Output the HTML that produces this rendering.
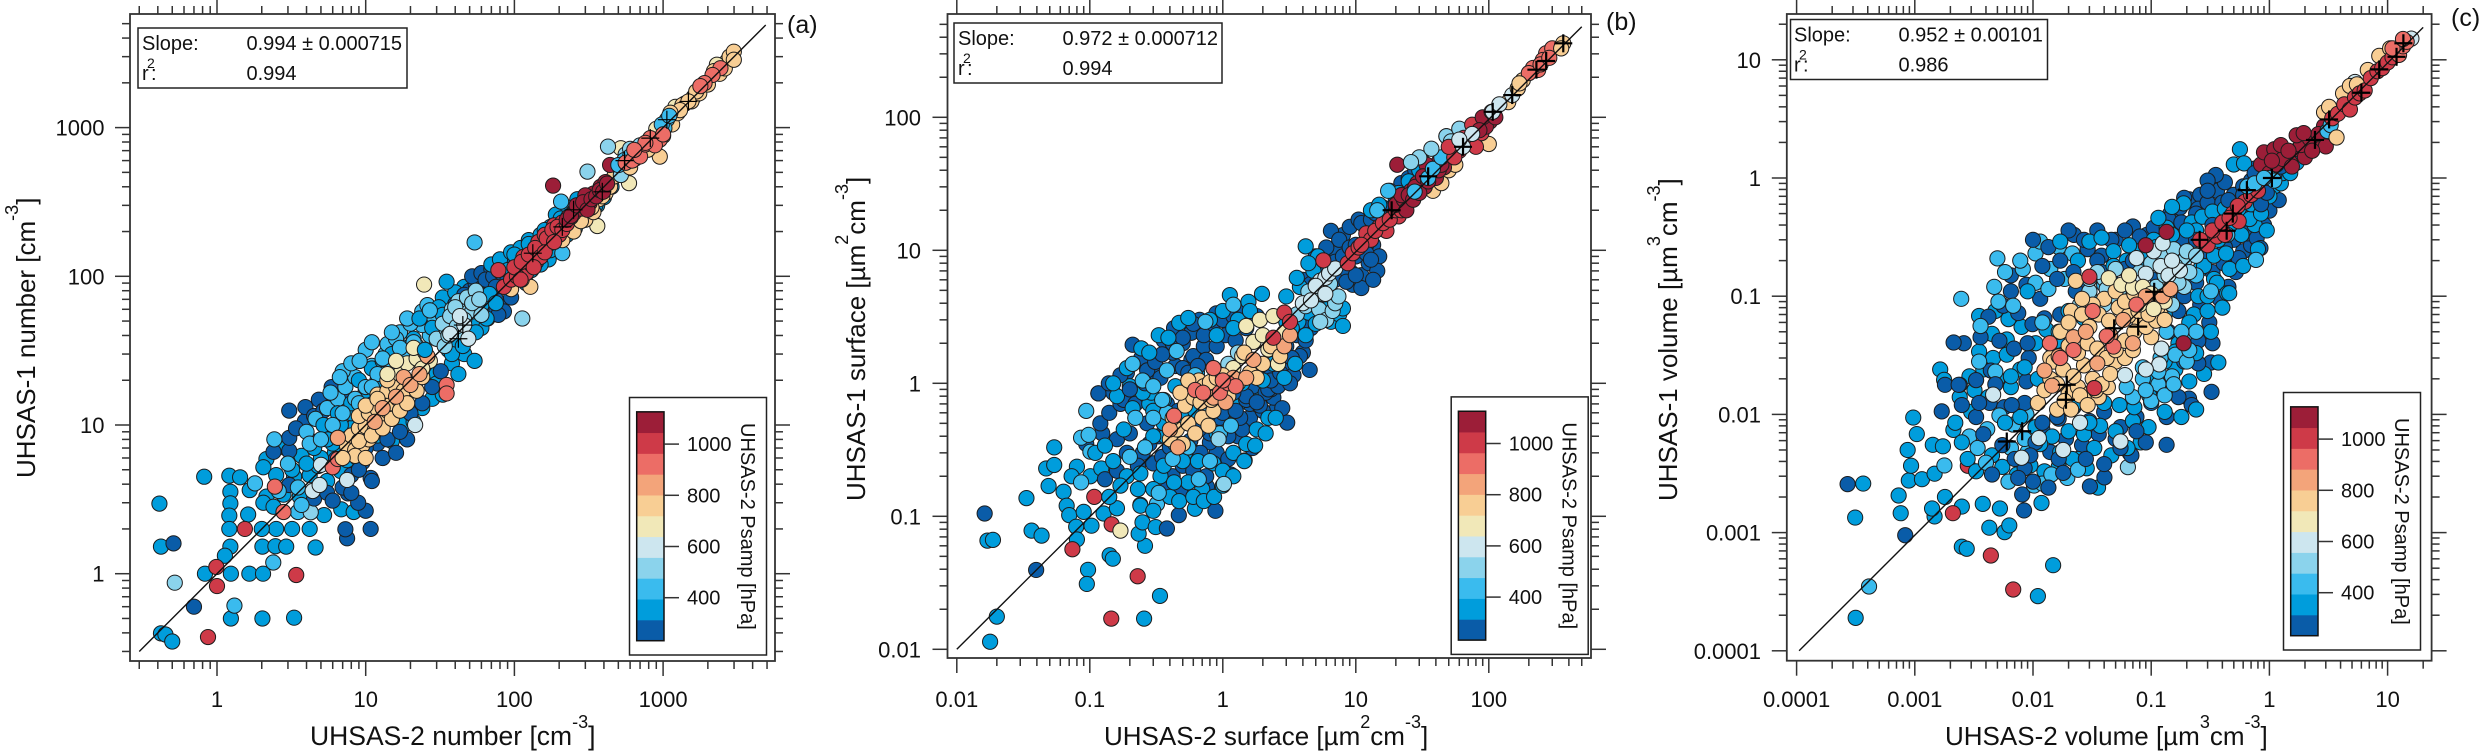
<!DOCTYPE html>
<html lang="en">
<head>
<meta charset="utf-8">
<title>UHSAS-1 vs UHSAS-2 comparison</title>
<style>
html,body{margin:0;padding:0;background:#fff;width:2480px;height:752px;overflow:hidden}
svg{display:block}
text{font-family:"Liberation Sans",Arial,sans-serif;fill:#111}
</style>
</head>
<body>
<svg id="chart" xmlns="http://www.w3.org/2000/svg" width="2480" height="752" viewBox="0 0 2480 752">
<rect width="2480" height="752" fill="#fff"/>
<g id="layer"></g>

<text x="310" y="745" font-size="26.5">UHSAS-2 number [cm<tspan dy="-17" font-size="18">-3</tspan><tspan dy="17">]</tspan></text>
<text transform="translate(35,478) rotate(-90)" font-size="26">UHSAS-1 number [cm<tspan dy="-17" font-size="18">-3</tspan><tspan dy="17">]</tspan></text>
<text x="1104" y="745" font-size="26">UHSAS-2 surface [µm<tspan dy="-17" font-size="18">2</tspan><tspan dy="17">cm</tspan><tspan dy="-17" font-size="18">-3</tspan><tspan dy="17">]</tspan></text>
<text transform="translate(865,501) rotate(-90)" font-size="26">UHSAS-1 surface [µm<tspan dy="-17" font-size="18">2</tspan><tspan dy="17">cm</tspan><tspan dy="-17" font-size="18">-3</tspan><tspan dy="17">]</tspan></text>
<text x="1945" y="745" font-size="26">UHSAS-2 volume [µm<tspan dy="-17" font-size="18">3</tspan><tspan dy="17">cm</tspan><tspan dy="-17" font-size="18">-3</tspan><tspan dy="17">]</tspan></text>
<text transform="translate(1677,501) rotate(-90)" font-size="26">UHSAS-1 volume [µm<tspan dy="-17" font-size="18">3</tspan><tspan dy="17">cm</tspan><tspan dy="-17" font-size="18">-3</tspan><tspan dy="17">]</tspan></text>

<text x="787" y="33" font-size="25">(a)</text>
<text x="1606" y="30" font-size="25">(b)</text>
<text x="2451" y="26" font-size="25">(c)</text>

<g>
<rect x="138" y="28" width="269" height="60" fill="#fff" stroke="#222" stroke-width="1.5"/>
<text x="142" y="50" font-size="20">Slope:</text><text x="246.5" y="50" font-size="20">0.994 ± 0.000715</text>
<text x="142" y="80" font-size="20">r</text><text x="147" y="68" font-size="14">2</text><text x="151" y="80" font-size="20">:</text><text x="246.5" y="80" font-size="20">0.994</text>
</g>
<g>
<rect x="954" y="23" width="268" height="60" fill="#fff" stroke="#222" stroke-width="1.5"/>
<text x="958" y="45" font-size="20">Slope:</text><text x="1062.5" y="45" font-size="20">0.972 ± 0.000712</text>
<text x="958" y="75" font-size="20">r</text><text x="963" y="63" font-size="14">2</text><text x="967" y="75" font-size="20">:</text><text x="1062.5" y="75" font-size="20">0.994</text>
</g>
<g>
<rect x="1790.5" y="19.5" width="257" height="60" fill="#fff" stroke="#222" stroke-width="1.5"/>
<text x="1794" y="41.5" font-size="20">Slope:</text><text x="1898.5" y="41.5" font-size="20">0.952 ± 0.00101</text>
<text x="1794" y="71.5" font-size="20">r</text><text x="1799" y="59.5" font-size="14">2</text><text x="1803" y="71.5" font-size="20">:</text><text x="1898.5" y="71.5" font-size="20">0.986</text>
</g>
</svg>

<script>
// ---------- colour scale ----------
const legendColors = ["#0a5ca8","#009ddc","#3abbee","#8bd3ec","#cde6ef","#f1e8b8","#f8ce94","#f3a47a","#ec6d66","#ce3a48","#9c1e38"];
const legendTicks = [400,600,800,1000];
const pressureMin = 232;
const pressureMax = 1126;

// ---------- panel (a) number ----------
const numXTicks = [1,10,100,1000];
const numYTicks = [1,10,100,1000];
const numLineX = [0.3,4900];
const numLineY = [0.3,4900];
const numCrossX = [1480,1060,820,550,390,250,210,133,45,42];
const numCrossY = [1500,1130,850,600,370,280,215,143,47,38];

const numX1=[.41,.42,.82,1.21,1.43,1.23,1.23,1.21,1.21,1.62,1.66,1.23,1.13,.83,1.24,1.65,2.04];
const numY1=[2.96,1.52,4.49,4.56,4.45,3.56,2.97,2.46,2,2.5,3.65,1.52,1.32,1,1,1,1];
const numP1=350;
const numX2=[1.24,2.02,3.3,.42,.45,.5,2.02,2.47,2.92,4.6,4.2,3.2,2.5,2,5.25,6.85,8.3];
const numY2=[.5,.5,.506,.397,.39,.35,1.52,1.53,1.52,1.5,2,2,2,2,2.48,2.71,2.6];
const numP2=350;
const numX3=[.51,.7,7.5,7.3,10.8,10,8.9];
const numY3=[1.6,.6,1.73,1.99,2,2.65,3];
const numP3=270;
const numX4=[1.31,2.39,1.8,3.5];
const numY4=[.61,1.19,4.05,2.6];
const numP4=430;
const numX5=[1.54,3.41,1,.99,.87];
const numY5=[2,.98,.826,1.11,.375];
const numP5=1000;
const numX6=[.52,4.27];
const numY6=[.87,2.59];
const numP6=520;
const numX7=[2.15,2.05,2.5,2.15,2.05,2.4,3.6,5.25,2.8,3.3,4.2,5.5,6.8,4.8,3.7,2.9,6.2,7.5,8.8];
const numY7=[5.9,5.2,4.6,3.3,3,2.82,3.3,3.65,3.4,4.5,4.6,4.2,4.9,5.3,6.2,7,6.5,5.8,6];
const numP7=350;
const numX8=[2.4,3.06,3.06,3.06,3.9,3.93,3.06,3.4,4.84,5.9,4.3,5.5,6.3,7.6,10.8,8,9.5,4.5,5.2,6.9,7.3,12];
const numY8=[6.6,6.7,3.95,8.2,10.6,13.2,12.5,9.5,14.8,18,7.8,8.4,5.9,3.47,4.4,4.6,5.6,11.5,12.5,15.5,8.8,7.5];
const numP8=270;
const numX9=[2.43,4,4.6,5.5,6.5,7.3,9.1,8.5,7,11,13.6,10,14,5.8,6.7,8];
const numY9=[8,9,11,13,15,18,27,21,23,25,30,32,35,16.5,21,26];
const numP9=430;
const numX10=[12,15,18,21,24,28,33,22,26,30,38,46,54,42,30,36];
const numY10=[8.5,7.8,10,10.5,13,15,16,20,24,22,26,30,27,22,19,32];
const numP10=350;
const numX11=[21.5,7.5,5,4.4,4.9];
const numY11=[10,4.27,5.4,3.6,3.95];
const numP11=600;
const numX12=[6.5,2.45,2.8,6,6.5,35,35];
const numY12=[8.2,3.85,2.6,5.2,5.9,18.6,16.3];
const numP12=900;
const numX13=[7.5,8.5,9.5,10.5,8,9,10,11.5,12.5,13.5,9,10.5,12,14,15,16.5,12,14,16,18,20,8.5,10];
const numY13=[7.2,6.8,7.3,8,8.5,9.5,9.8,9.2,10,11,11.5,12,12.8,12.5,14,15,16,17,18,17,19,6.2,6];
const numP13=770;
const numX14=[17,19,22,25,27,21,24,16,14];
const numY14=[22,26,28,31,27,33,24,27,22];
const numP14=680;
const numX15=[11.5,16,18,20,23,26,6.5,13];
const numY15=[10.5,15.5,21,18.6,22,29,8.2,13];
const numP15=860;
const numX16=[18,21,17,16,24,28,24,20,26,11,15,19,13,17];
const numY16=[30,36,42,38,47,55,58,48,64,36,42,52,28,33];
const numP16=430;
const numX17=[27,33,46,23,31,40,35,58,66,72,60,75];
const numY17=[59,72,85,52,62,78,92,60,52,68,45,95];
const numP17=350;
const numX18=[50,55,62,70,75,80,85,52,60,70,85,95,58,68,78,46];
const numY18=[80,88,92,78,70,62,58,100,105,112,85,72,72,62,55,75];
const numP18=270;
const numX19=[30,35,40,45,50,38,42,48,55,44,52,60,113,34,39];
const numY19=[38,44,50,56,62,60,68,72,80,42,58,55,52,34,52];
const numP19=520;
const numX20=[46,49,37,43];
const numY20=[47,38,41,54];
const numP20=600;
const numX21=[70,80,95,110,125,110,130,150,170,90,100,120,170,190,230,265,340,290,240,360,150,175,205,125];
const numY21=[120,130,145,155,175,110,120,140,160,110,100,90,130,260,290,330,330,260,230,300,190,215,245,165];
const numP21=350;
const numX22=[54,27,9.1,206,210];
const numY22=[169,59,27,318,143];
const numP22=430;
const numX23=[24.7,361,590,520];
const numY23=[88,218,423,727];
const numP23=680;
const numX24=[300,340,370,410,128,112,95];
const numY24=[240,270,330,362,85,95,82];
const numP24=800;
const numX25=[85,95,105,120,130,115,140,155,170,145,160,180,200,185,210,230,250,78,104,139];
const numY25=[85,95,110,105,120,135,125,150,165,170,190,180,190,220,230,250,270,110,100,143];
const numP25=1000;
const numX26=[225,250,280,320,340,300,380,410,440,182];
const numY26=[240,265,285,310,360,350,400,430,561,407];
const numP26=1100;
const numX27=[2990,2990,1670,1480,1300,950,790,1120];
const numY27=[3240,2860,1750,1500,1310,638,710,1260];
const numP27=770;
const numX28=[1210,1100,900,2700,1600,2300,1400];
const numY28=[1380,1150,980,2800,1600,2650,1450];
const numP28=680;
const numX29=[426,310,560,700];
const numY29=[745,506,660,760];
const numP29=520;
const numX30=[1060,1020,980,1100,550,600,500];
const numY30=[1130,990,1050,1200,606,640,560];
const numP30=430;
const numX31=[2430,2150,1900,1780,820,880,1000,760,640];
const numY31=[2510,2260,1990,1900,850,760,900,790,708];
const numP31=900;
const numX32=[3.2,4,5,6,7,8.5,4.5,5.5,6.8,8,9.5,11,5.2,6.5,8,10,12,9,11,13,15,17,13,15,18,21,16,19,22,25,13,11];
const numY32=[5,5.5,6,7.5,9,10,7,8,10,12,14,16,10,12,14,17,20,20,24,27,30,34,22,26,30,38,16,18,20,26,12,10];
const numP32=350;
const numX33=[4.5,5.5,7,9,11,13,16,19,14,17,20,24,28,32,6,8,10];
const numY33=[3.2,3.5,3.8,5,4.2,6,6.5,8,8,9,12,14,18,23,3.1,3.5,7];
const numP33=270;
const numX34=[3.5,2.6,4.2,5,6,3,3.7,7,8.5,10,12,15,18,22,27,32,38,9,11];
const numY34=[3.8,3.6,7.5,8,10,5.5,2.9,12,15,18,22,24,30,34,40,46,54,14,18];
const numP34=430;
const numX35=[9,11,13,15,17,19,22,24,10,12,7,14];
const numY35=[7.8,8.5,9.5,11,12.5,14,17,21,13.5,15,6,20];
const numP35=770;
const numX36=[25,30,35,40,45,52,60,68,38,45,55,65,75,28,33];
const numY36=[32,38,46,36,44,50,64,76,30,34,42,52,66,45,55];
const numP36=350;
const numX37=[40,48,56,64,72,82,92,100,60,75,90];
const numY37=[65,70,80,95,100,105,110,125,60,85,95];
const numP37=270;
const numX38=[33,37,41,46,36,40,52,58];
const numY38=[48,54,46,51,40,62,66,70];
const numP38=520;
const numX39=[130,150,175,200,225,255,300,350,400,450,100,160];
const numY39=[110,120,150,170,190,210,270,300,340,400,140,205];
const numP39=380;
const numX40=[210,250,280,330,390,440,470,520];
const numY40=[175,200,235,290,345,400,470,510];
const numP40=800;
const numX41=[100,112,125,138,150,165,180,195,210,225,240,265,110,135,160,185];
const numY41=[115,125,140,155,135,180,205,215,205,225,250,300,95,115,145,170];
const numP41=1000;
const numX42=[240,262,290,310,330,355,375,395,420];
const numY42=[255,300,315,280,330,345,380,370,420];
const numP42=1100;
const numX43=[600,700,800,1000,1150,1250,1350,1550,1750,2000,2200,2400,2600,2800];
const numY43=[540,680,760,880,1050,1250,1420,1500,1700,1950,2400,2300,2500,3000];
const numP43=770;
const numX44=[600,520,650];
const numY44=[720,480,620];
const numP44=520;
const numX45=[560,620,700,760,850,950];
const numY45=[580,600,640,770,820,830];
const numP45=900;
const numGroups=[[numX1,numY1,numP1],[numX2,numY2,numP2],[numX3,numY3,numP3],[numX4,numY4,numP4],[numX5,numY5,numP5],[numX6,numY6,numP6],[numX7,numY7,numP7],[numX8,numY8,numP8],[numX9,numY9,numP9],[numX10,numY10,numP10],[numX33,numY33,numP33],[numX32,numY32,numP32],[numX34,numY34,numP34],[numX11,numY11,numP11],[numX12,numY12,numP12],[numX16,numY16,numP16],[numX17,numY17,numP17],[numX13,numY13,numP13],[numX35,numY35,numP35],[numX14,numY14,numP14],[numX15,numY15,numP15],[numX18,numY18,numP18],[numX37,numY37,numP37],[numX36,numY36,numP36],[numX19,numY19,numP19],[numX38,numY38,numP38],[numX20,numY20,numP20],[numX21,numY21,numP21],[numX39,numY39,numP39],[numX22,numY22,numP22],[numX23,numY23,numP23],[numX24,numY24,numP24],[numX40,numY40,numP40],[numX25,numY25,numP25],[numX41,numY41,numP41],[numX26,numY26,numP26],[numX42,numY42,numP42],[numX28,numY28,numP28],[numX29,numY29,numP29],[numX44,numY44,numP44],[numX43,numY43,numP43],[numX27,numY27,numP27],[numX30,numY30,numP30],[numX45,numY45,numP45],[numX31,numY31,numP31]];

// ---------- panel (b) surface ----------
const surfXTicks = [0.01,0.1,1,10,100];
const surfYTicks = [0.01,0.1,1,10,100];
const surfLineX = [0.01,500];
const surfLineY = [0.01,480];
const surfCrossX = [363,270,228,150,107,64,18.6,35];
const surfCrossY = [360,265,228,147,110,60,20,36];

const surfX1=[.017,.0187,.02,.0178,.0365,.0434,.0334,.054,.047,.054,.049,.0635,.067,.07,.079,.08];
const surfY1=[.0656,.0665,.0176,.0114,.078,.0716,.137,.33,.229,.243,.169,.153,.12,.102,.0835,.067];
const surfP1=350;
const surfX2=[.08,.073,.101,.122,.09,.103,.127,.16,.141,.149,.097,.095,.337,.256,.26,.233,.249,.313,.617];
const surfY2=[.236,.2,.2,.229,.108,.085,.105,.115,.051,.048,.0396,.031,.0252,.017,.06,.074,.09,.083,.114];
const surfP2=350;
const surfX3=[.0162,.0395,.094,.116,.124,.38,.467,.88,.84,.76,1.15,1.46,1.67,3.05,2.48];
const surfY3=[.105,.0395,.35,.84,.42,.081,.102,.11,.148,.167,.206,.263,.326,.506,.62];
const surfP3=270;
const surfX4=[.094,.086,.24,.32,.086,.098,.101];
const surfY4=[.62,.18,.122,.124,.39,.41,.306];
const surfP4=430;
const surfX5=[.074,.108,.146,.229,.145];
const surfY5=[.0565,.14,.087,.0354,.017];
const surfP5=1000;
const surfX6=[.17];
const surfY6=[.078];
const surfP6=680;
const surfX7=[.12,.14,.17,.16,.2,.25,.3,.22,.27,.35,.42,.5,.6,.75,.9,1.1,1.3];
const surfY7=[.5,.6,.7,.38,.42,.3,.25,.55,.5,.28,.2,.24,.22,.2,.3,.27,.4];
const surfP7=270;
const surfX8=[1.6,2,2.4,2.8,.38,.48,.62,.8,1.05,1.4,1.9,.24,.32,.44,.58,.19,.26];
const surfY8=[.55,.62,.78,.65,.16,.15,.3,.36,.5,.45,.8,.95,1.15,1.35,1.5,1.2,1.4];
const surfP8=270;
const surfX9=[.11,.13,.15,.19,.23,.18,.21,.28,.34,.4,.47,.55,.7,.85,1,1.2,1.5];
const surfY9=[.3,.34,.26,.2,.16,.45,.65,.7,.2,.14,.13,.18,.16,.25,.22,.3,.35];
const surfP9=350;
const surfX10=[1.8,2.2,.16,.2,.29,.37,.44,.52,.65,.17,.14,.24,.3,.9,1.3,1.7];
const surfY10=[.45,.55,.8,.95,.85,.4,.35,.3,.26,.17,.14,.12,.11,.42,.7,.85];
const surfP10=350;
const surfX11=[.116,.139,.17,.2,.244,.21,.27,.31,.36,.43,.5,.58,.67,.26,.34,.42,.5,.6,.72,.895];
const surfY11=[.84,1,1.15,.9,1.55,1.95,1.25,1.45,2.1,2.6,2,2.4,3,1,1.1,1.7,1.3,1.6,1.9,3.36];
const surfP11=270;
const surfX12=[.15,.19,.244,.28,.33,.39,.47,.55,.8,1,1.13,1.56,1.97,1.3,1.6,.9,1.2];
const surfY12=[1,1.3,1.83,1.7,2.3,2.2,2.85,3.1,3,3.5,4.6,4.1,4.7,3,3.5,2.3,2.6];
const surfP12=350;
const surfX13=[.21,.25,.3,.38,.45,.74,1.2,.35,.62,.75];
const surfY13=[1.4,1.05,.95,1.25,1.75,2.9,3.9,.75,1.15,.62];
const surfP13=430;
const surfX14=[1.9,2.3,2.8,3.4,4.5,4,3,2.4,3.6,4.6,5.3,1.5,1.7,2.1,2.6];
const surfY14=[1,1.2,1.35,1.15,1.26,1.7,1.9,1.6,2.3,2.6,3.3,.75,.95,.85,1.05];
const surfP14=270;
const surfX15=[6,7,8,6.5,7.5,9,10.5,12,13.5,15,9,11,12.5,14.5,10,12,8,9.5,11,13.5];
const surfY15=[8.5,10,13,14,12,15,17,14.5,11,9,7,6.5,8,7,9,11,6.5,5.5,5.2,6];
const surfP15=270;
const surfX16=[13,15,18,21,25,30,5.2,4.2,4.8,3.3,7.5,8,3,3.8,8,3.6,4.4];
const surfY16=[20,22,28,27,33,40,9,10.7,7,2.6,3.3,3.66,4.5,5.3,2.7,6.2,8];
const surfP16=350;
const surfX17=[3.6,4.2,4.8,5.3,6,6.7,4.4,5,5.6,6.2,7,5.4,6.4,7.4];
const surfY17=[3.3,3.8,4.2,3.6,3,3.5,4.9,5.5,4.7,5,4,2.9,5.6,4.5];
const surfP17=520;
const surfX18=[4,4.6,5.4,5.9,6.3,7,5,5.9];
const surfY18=[4,4.2,5.9,6.2,6.7,7.3,5.4,4.7];
const surfP18=600;
const surfX19=[.93,.85,1.1,1.3,.9,1.02];
const surfY19=[.38,1.3,1.4,1.7,1.2,.175];
const surfP19=550;
const surfX20=[1.2,1.4,1.7,2,1.5,1.9,2.4,2.9,2.2,2.6];
const surfY20=[1.3,1.6,2.05,2.3,2.7,3,3.2,2.4,1.8,1.4];
const surfP20=680;
const surfX21=[.4,.45,.5,.55,.62,.7,.78,.85,.52,.6,.68,.75,.82,.95,.58,.66,.72,.8,.9,1,.42,.48,.55];
const surfY21=[.38,.45,.35,.5,.42,.55,.48,.62,.68,.78,.72,.85,.75,.9,.95,1.05,.95,1.02,1.1,1.15,.55,.85,1.05];
const surfP21=770;
const surfX22=[1.3,1.6,2,2.3,2.7,1.1,1.45,1.8];
const surfY22=[1,1.2,1.4,1.9,1.6,.8,1.7,1.1];
const surfP22=770;
const surfX23=[.46,.4,.85,1.05,1.2,2.9,3.2,1.5,1.7];
const surfY23=[.33,.45,.78,.72,1.1,1.9,2.3,1.1,1.5];
const surfP23=860;
const surfX24=[.95,1.1,1.25,.85,1,.62,.43,.71];
const surfY24=[.85,1,.95,1.3,1.05,.89,.57,.85];
const surfP24=920;
const surfX25=[5.7,8.7,9.5,10.5,12,13,15,17,19,21,2.4,2.9,3.2];
const surfY25=[8.4,8,9.5,10.5,13.4,12,15,14,18,18,2.2,3.4,2.9];
const surfP25=1000;
const surfX26=[20,23,26,29,33,37,42,46,40,34,28,24,20.5];
const surfY26=[22,24,28,32,30,38,46,42,35,44,30,20,44];
const surfP26=1100;
const surfX27=[14.5,27.7,35,17.5,38,44];
const surfY27=[20,27.6,35,28,41,50];
const surfP27=400;
const surfX28=[30,37,26,48,52,60];
const surfY28=[50,58,46,72,66,82];
const surfP28=500;
const surfX29=[38,44,50,56,48,100,140,165,180];
const surfY29=[28,32,40,44,72,63,130,165,190];
const surfP29=770;
const surfX30=[88,72,80,60,55,50,65,75];
const surfY30=[76,65,60,56,50,60,70,88];
const surfP30=1000;
const surfX31=[102,95,90,110,85,105,112];
const surfY31=[93,85,100,105,80,110,100];
const surfP31=1100;
const surfX32=[107,64,75,60,150,120];
const surfY32=[110,60,75,68,147,125];
const surfP32=600;
const surfX33=[270,235,300,255,215,200,245,285];
const surfY33=[303,227,330,270,235,215,250,280];
const surfP33=900;
const surfX34=[363,350,165,170];
const surfY34=[360,330,165,180];
const surfP34=770;
const surfX35=[.13,.16,.19,.23,.28,.33,.4,.48,.57,.68,.8,.95,1.1,1.35,1.6,1.9,2.3,.15,.18,.22,.27,.32,.38,.46,.55,.66,.78,.93,1.1,1.3,1.55,1.85];
const surfY35=[.19,.22,.3,.24,.35,.4,.33,.3,.37,.3,.42,.55,.4,.55,.7,.68,.9,.85,.75,.7,.8,.62,.7,.62,.5,.45,.58,.65,.75,.9,1,1.1];
const surfP35=270;
const surfX36=[.24,.3,.36,.43,.5,.6,.72,.86,1,1.2,1.45,1.75,2.1,2.5,.3,.36,.43,.52,.62,.75,.9,.25,.3,.36,.44,.53,.64];
const surfY36=[.21,.16,.24,.18,.26,.14,.13,.14,.17,.2,.26,.34,.42,.55,.4,.5,.45,.55,.62,.75,.7,.85,.62,.75,.95,.8,1.2];
const surfP36=350;
const surfX37=[.2,.26,.33,.42,.55,.66,.8,.95,1.15,.38,.3,.22];
const surfY37=[.28,.33,.15,.27,.33,.19,.26,.42,.48,.6,.55,.55];
const surfP37=430;
const surfX38=[.35,.42,.5,.6,.72,.85,1,1.2,1.45,.75,.9,1.05,1.25,1.5,1.8,.55,.65];
const surfY38=[1.65,2,2.2,2.8,2.3,2.8,3,3.2,3.7,1.5,1.9,2.3,2.1,2.6,3.2,1.2,1.35];
const surfP38=270;
const surfX39=[1,1.25,1.5,1.8,2.2,2.6,3.2,3.8,4.2,3.4,2.9,2.3,1.9,2.7,3.3,4,.95,1.2];
const surfY39=[.6,.62,.8,.72,.9,.95,1,1.6,2.1,2.8,2.2,1.05,1.35,1.2,1.55,2.9,.85,.85];
const surfP39=270;
const surfX40=[1.4,1.7,2,2.4,2.9,3.5,4.2,3,3.7,4.4,5,5.8,6.5,7.2,6];
const surfY40=[1,1.2,1.05,1.4,1.1,1.4,2.3,2.9,2.9,3.4,2.8,3.1,2.9,3.9,3.6];
const surfP40=350;
const surfX41=[4,5,6,7,8,9,10,11,12,13,5,6,7,8.5,10,4.6,5.5,6.5];
const surfY41=[6,7,7.5,8.2,9,10.5,11,10,9.5,8.5,9,10.5,6,5.8,6.5,5.6,8,4.8];
const surfP41=270;
const surfX42=[11,13,14,16,18,20,22,25,28,32];
const surfY42=[16,17,19,21,20,24,32,35,40,46];
const surfP42=270;
const surfX43=[11,14,16,18,20,22];
const surfY43=[11,14,16,17,20,20];
const surfP43=1000;
const surfX44=[22,25,27,30,32,35,38,42,44];
const surfY44=[26,26,24,27,36,33,40,40,44];
const surfP44=1100;
const surfGroups=[[surfX1,surfY1,surfP1],[surfX2,surfY2,surfP2],[surfX3,surfY3,surfP3],[surfX4,surfY4,surfP4],[surfX5,surfY5,surfP5],[surfX6,surfY6,surfP6],[surfX7,surfY7,surfP7],[surfX8,surfY8,surfP8],[surfX35,surfY35,surfP35],[surfX9,surfY9,surfP9],[surfX10,surfY10,surfP10],[surfX36,surfY36,surfP36],[surfX37,surfY37,surfP37],[surfX11,surfY11,surfP11],[surfX38,surfY38,surfP38],[surfX12,surfY12,surfP12],[surfX13,surfY13,surfP13],[surfX14,surfY14,surfP14],[surfX39,surfY39,surfP39],[surfX40,surfY40,surfP40],[surfX15,surfY15,surfP15],[surfX41,surfY41,surfP41],[surfX42,surfY42,surfP42],[surfX16,surfY16,surfP16],[surfX17,surfY17,surfP17],[surfX18,surfY18,surfP18],[surfX19,surfY19,surfP19],[surfX20,surfY20,surfP20],[surfX22,surfY22,surfP22],[surfX21,surfY21,surfP21],[surfX23,surfY23,surfP23],[surfX24,surfY24,surfP24],[surfX29,surfY29,surfP29],[surfX25,surfY25,surfP25],[surfX43,surfY43,surfP43],[surfX26,surfY26,surfP26],[surfX44,surfY44,surfP44],[surfX27,surfY27,surfP27],[surfX28,surfY28,surfP28],[surfX30,surfY30,surfP30],[surfX31,surfY31,surfP31],[surfX32,surfY32,surfP32],[surfX33,surfY33,surfP33],[surfX34,surfY34,surfP34]];

// ---------- panel (c) volume ----------
const volXTicks = [0.0001,0.001,0.01,0.1,1,10];
const volYTicks = [0.0001,0.001,0.01,0.1,1,10];
const volLineX = [0.000105,20];
const volLineY = [0.0001,18.8];
const volCrossX = [.006,.0081,.019,.0193,.0486,.0776,.106,.257,.435,.49,.645,1.05,2.43,3.2,6,8.5,11.9,13.6];
const volCrossY = [.0059,.0072,.0133,.0178,.0535,.0553,.109,.3,.358,.5,.79,1,2.1,3.13,5.26,8.3,10.6,13.8];

const volX1=[.000366,.000313,.000316,.00076,.00073,.00089,.00115,.00093,.00147,.00087,.00104,.00097,.00142,.00173,.00212];
const volY1=[.0026,.00134,.00019,.00146,.00206,.00276,.00283,.00368,.00315,.005,.00682,.0094,.00553,.00537,.0074];
const volP1=350;
const volX2=[.00147,.0014,.0018,.0025,.0025,.00275,.00427,.00575,.0063,.00376,.00525,.0148,.011,.0118,.0355,.0815];
const volY2=[.00137,.0016,.002,.00166,.00076,.00073,.0011,.00101,.00115,.00175,.0016,.00053,.00029,.00178,.0024,.0058];
const volP2=350;
const volX3=[.00027,.00083,.00169,.0081,.0084,.0132,.0303,.0402,.135,.066,.324,.209];
const volY3=[.00257,.00095,.0106,.0021,.00154,.00245,.00246,.00293,.00553,.00469,.0155,.0136];
const volP3=270;
const volX4=[.00041,.00178,.0102];
const volY4=[.00035,.0037,.0025];
const volP4=430;
const volX5=[.0021,.00281,.0044,.0068];
const volY5=[.00146,.00368,.00064,.00033];
const volP5=1000;
const volX6=[.0635];
const volY6=[.00358];
const volP6=520;
const volX7=[.0022,.003,.0024,.0032,.0042,.0029,.0038,.005,.0065,.0035,.0046,.006,.0078,.0045,.006,.008,.0105,.0035,.0048,.0062,.00164,.00177];
const volY7=[.0085,.0105,.014,.016,.014,.021,.024,.02,.017,.034,.03,.032,.024,.048,.043,.055,.04,.068,.075,.064,.024,.0196];
const volP7=350;
const volX8=[.0018,.0025,.0033,.0043,.0057,.0024,.0033,.0044,.0026,.0036,.0052,.0069,.0092,.0042,.0056,.0075,.0099,.0065,.0088,.0115,.0065,.00213,.00235];
const volY8=[.0178,.012,.0095,.0125,.0115,.0178,.0195,.0235,.04,.045,.042,.036,.03,.067,.083,.072,.058,.11,.125,.095,.15,.0406,.0178];
const volP8=270;
const volX9=[.00247,.005,.0029,.0041,.0052,.0068,.0088,.0035,.0048,.0036,.0051,.0068,.0047,.0058,.0082,.0105,.0135,.0078,.0105,.014,.0185,.0115,.0165,.0215];
const volY9=[.095,.209,.0065,.0075,.0098,.0082,.01,.028,.023,.056,.09,.083,.12,.16,.17,.13,.115,.2,.23,.17,.14,.29,.26,.23];
const volP9=430;
const volX10=[.01,.0135,.017,.0222,.029,.038,.05,.07,.092,.12,.145,.175,.21,.26,.32,.25,.3,.36,.42,.352,.3,.19];
const volY10=[.3,.26,.2,.33,.25,.22,.3,.389,.33,.42,.5,.56,.66,.72,.84,.55,.62,.78,.92,1.06,.95,.68];
const volP10=270;
const volX11=[.017,.024,.03,.038,.048,.062,.08,.105,.135,.188,.15,.115,.22,.27,.24,.33,.42,.5,.563,.61];
const volY11=[.29,.2,.29,.313,.24,.2,.24,.3,.38,.61,.57,.46,.42,.47,.36,.52,.55,1.3,1.75,1.33];
const volP11=350;
const volX12=[.14,.17,.2,.25,.31,.38,.45,.16,.2,.26,.33,.41,.52,.6,.7,.55,.65,.78,.9,1,1.2,.85,.75,.5,.42,.29,.24,.19,.84];
const volY12=[.05,.075,.04,.042,.06,.095,.12,.11,.13,.085,.16,.19,.16,.24,.27,.21,.34,.31,.4,.53,.65,.75,.5,.3,.26,.23,.13,.1,.255];
const volP12=270;
const volX13=[.13,.16,.21,.25,.3,.36,.44,.28,.34,.43,.37,.47,.58,.68,.8,.95,.62,.72,.88,1.1,1.25,1.4,.37,.457];
const volY13=[.028,.034,.06,.1,.1,.13,.106,.18,.22,.23,.3,.38,.33,.45,.25,.36,.61,.8,.66,.85,.9,1.25,.0275,.106];
const volP13=350;
const volX14=[.0085,.012,.0165,.022,.03,.04,.055,.075,.1,.135,.01,.014,.019,.026,.036,.05,.068,.09,.125,.17,.22,.32];
const volY14=[.0125,.0075,.0092,.0115,.0088,.0105,.0078,.0095,.0125,.0095,.0055,.0048,.0062,.0055,.0068,.0062,.0045,.0058,.0165,.014,.012,.0275];
const volP14=270;
const volX15=[.0058,.0078,.0105,.0145,.02,.027,.037,.05,.07,.095,.13,.18,.24,.017,.024,.033,.046,.063,.11,.16,.21,.28];
const volY15=[.0085,.0095,.0078,.0065,.0072,.0068,.008,.0072,.0088,.0078,.0105,.0095,.011,.0048,.0042,.0052,.0045,.0052,.02,.024,.019,.022];
const volP15=350;
const volX16=[.085,.115,.15,.12,.16,.2,.1,.13,.19,.24,.07,.09,.77];
const volY16=[.02,.018,.021,.03,.032,.028,.013,.0145,.046,.05,.014,.016,.203];
const volP16=430;
const volX17=[.0025,.0028,.0033,.0045,.0055,.0073,.0095,.0125,.0165,.0215,.0285,.0115];
const volY17=[.0058,.0042,.0033,.0045,.0036,.0031,.0037,.0033,.0036,.0042,.0035,.0056];
const volP17=350;
const volX18=[.0034,.004,.0062,.009,.012,.0143,.0195,.024,.0065,.0085];
const volY18=[.0052,.0039,.0027,.0048,.0026,.0031,.0029,.0034,.0052,.0062];
const volP18=430;
const volX19=[.0038,.0055,.0085,.0075,.01,.0165,.0105];
const volY19=[.0068,.0055,.0035,.0029,.0027,.0042,.0058];
const volP19=270;
const volX20=[.055,.065,.08,.1,.125,.155,.19,.21,.17,.14,.11,.09,.07,.05,.035,.03,.042,.16,.2,.24,.13];
const volY20=[.115,.13,.16,.19,.22,.25,.2,.16,.13,.11,.12,.09,.1,.17,.16,.14,.115,.18,.24,.22,.15];
const volP20=520;
const volX21=[.085,.1,.12,.14,.105,.125,.075,.09,.175,.15,.0112,.008,.018,.025,.0046,.055];
const volY21=[.135,.1,.18,.15,.24,.28,.21,.155,.165,.2,.0063,.0043,.005,.0085,.0147,.0059];
const volP21=600;
const volX22=[.011,.0125,.014,.016,.0185,.021,.025,.029,.034,.015,.018,.022,.027,.032,.038,.045,.02,.024,.029,.035,.042,.05,.06,.072,.09,.11];
const volY22=[.0125,.016,.02,.018,.013,.011,.0145,.012,.016,.028,.024,.021,.026,.02,.018,.022,.038,.033,.04,.036,.03,.035,.042,.05,.055,.062];
const volP22=770;
const volX23=[.03,.036,.044,.053,.064,.078,.095,.113,.13,.04,.05,.06,.072,.088,.032,.026,.02,.023];
const volY23=[.055,.07,.062,.08,.068,.075,.07,.08,.063,.095,.11,.09,.105,.092,.085,.095,.06,.135];
const volP23=770;
const volX24=[.0437,.056,.07,.085,.1,.065,.08,.13,.105];
const volY24=[.142,.125,.118,.12,.105,.15,.085,.09,.078];
const volP24=680;
const volX25=[.0125,.0145,.0165,.022,.028,.035,.045,.058,.07,.09,.125,.145];
const volY25=[.0235,.0175,.031,.045,.05,.027,.047,.063,.04,.1,.1,.115];
const volP25=860;
const volX26=[.0139,.017,.022,.033,.048,.032,.042,.075];
const volY26=[.04,.03,.035,.0167,.0375,.075,.046,.085];
const volP26=920;
const volX27=[.06,.117,.122,.09];
const volY27=[.0215,.0265,.036,.024];
const volP27=600;
const volX28=[.7,.85,.95,1.1,1.25,.6,.75];
const volY28=[.95,.6,.75,1.05,1.25,.72,1.1];
const volP28=270;
const volX29=[.3,.36,.42,.49,.55,.62,.7,.8,.26,.33,.4,.46,.54,.03,.033];
const volY29=[.27,.32,.33,.5,.43,.63,.72,.78,.3,.36,.42,.46,.58,.146,.0167];
const volP29=1000;
const volX30=[.188,.09,.135,.85,1,1.15,1.3,1.5,1.75,2,2.3,2.6,2.9,.9,1.1,1.3];
const volY30=[.04,.27,.35,1.3,1.1,1.3,1.55,1.35,1.75,1.5,1.9,2.1,2.75,1.65,1.75,1.45];
const volP30=1100;
const volX31=[1.55,1.85,2.2,2.6,3,1.05,1.25,1.45,1.7,1.95,2.3];
const volY31=[1.25,1.9,2.15,2.35,1.85,1.4,1.9,1.7,2.3,2.4,1.7];
const volP31=1100;
const volX32=[1,1.1,.65,.75,.9,3.1,3.3];
const volY32=[1,.95,.85,.9,1,2.5,2.8];
const volP32=430;
const volX33=[3.7,2.9,3.2,4.2,4.8,5.5,6.8,8.5,10.5];
const volY33=[2.2,3.6,4,5.2,6,6.2,8.2,10.8,12.5];
const volP33=770;
const volX34=[3.4,3.8,4.3,4.8,5.3,5.8,6.4,7.2,8.2,9,10,11,12];
const volY34=[3.2,3.5,4.2,3.8,4.8,5.2,5.5,7,8,8.5,9.5,10.5,12];
const volP34=1000;
const volX35=[12.5,13.5,14.5,11,13.5];
const volY35=[11,13,14.2,12.5,15];
const volP35=900;
const volX36=[15.9,5.3];
const volY36=[15.1,6.5];
const volP36=580;
const volX37=[.0035,.0048,.0066,.0088,.012,.016,.035,.045,.06,.08,.105,.14,.18,.24,.33,.45,.6];
const volY37=[.0125,.018,.012,.019,.0085,.0095,.2,.14,.17,.16,.21,.29,.3,.3,.4,.65,.85];
const volP37=270;
const volX38=[.012,.016,.022,.029,.038,.05,.07,.1,.14,.19,.25,.33,.009,.0125,.017,.023,.03,.04];
const volY38=[.18,.14,.16,.13,.16,.12,.2,.14,.17,.028,.027,.04,.04,.065,.07,.11,.11,.13];
const volP38=270;
const volX39=[.0065,.0085,.011,.015,.02,.027,.036,.048,.065,.085,.11,.15,.2,.26,.34,.46,.6,.75];
const volY39=[.021,.025,.02,.035,.075,.065,.085,.18,.27,.21,.26,.33,.36,.17,.14,.17,.18,.4];
const volP39=350;
const volX40=[.016,.022,.03,.04,.054,.072,.096,.13,.17,.23,.3,.4,.18,.24,.32,.13,.009,.013];
const volY40=[.042,.012,.0085,.0125,.012,.0115,.0145,.0195,.04,.07,.075,.08,.036,.033,.05,.07,.11,.052];
const volP40=350;
const volX41=[.012,.0165,.022,.03,.04,.055,.075,.1,.135,.18,.24,.32,.44,.062,.085,.115,.155,.21];
const volY41=[.06,.05,.075,.1,.125,.095,.13,.065,.05,.05,.15,.11,.33,.017,.025,.023,.018,.035];
const volP41=430;
const volX42=[.02,.027,.035,.046,.06,.08,.105,.14,.18,.24,.3,.4,.5,.65,.75,.9];
const volY42=[.36,.3,.36,.3,.36,.32,.38,.45,.42,.5,.78,.62,.72,.85,1.2,1.1];
const volP42=270;
const volX43=[.55,.7,.85,1,1.3,1.5,1.7];
const volY43=[.55,.6,.5,.7,1.1,1.1,1.35];
const volP43=350;
const volX44=[.0045,.007,.0095,.0135,.018,.028,.04,.055,.075];
const volY44=[.0031,.0042,.0045,.0024,.0032,.0042,.0038,.0052,.0072];
const volP44=270;
const volX45=[.016,.02,.024,.03,.036,.043,.05,.06,.07,.08,.1,.12,.014,.017,.021,.026];
const volY45=[.011,.015,.017,.015,.014,.017,.028,.03,.035,.06,.045,.07,.03,.05,.075,.07];
const volP45=770;
const volX46=[.04,.05,.065,.08,.1,.12,.15,.19,.04,.03,.025];
const volY46=[.14,.095,.085,.07,.08,.065,.085,.12,.085,.11,.085];
const volP46=520;
const volGroups=[[volX1,volY1,volP1],[volX2,volY2,volP2],[volX3,volY3,volP3],[volX4,volY4,volP4],[volX5,volY5,volP5],[volX6,volY6,volP6],[volX7,volY7,volP7],[volX8,volY8,volP8],[volX9,volY9,volP9],[volX10,volY10,volP10],[volX42,volY42,volP42],[volX11,volY11,volP11],[volX14,volY14,volP14],[volX15,volY15,volP15],[volX17,volY17,volP17],[volX18,volY18,volP18],[volX19,volY19,volP19],[volX44,volY44,volP44],[volX37,volY37,volP37],[volX38,volY38,volP38],[volX12,volY12,volP12],[volX39,volY39,volP39],[volX40,volY40,volP40],[volX13,volY13,volP13],[volX43,volY43,volP43],[volX16,volY16,volP16],[volX41,volY41,volP41],[volX46,volY46,volP46],[volX20,volY20,volP20],[volX21,volY21,volP21],[volX45,volY45,volP45],[volX22,volY22,volP22],[volX23,volY23,volP23],[volX24,volY24,volP24],[volX25,volY25,volP25],[volX26,volY26,volP26],[volX27,volY27,volP27],[volX28,volY28,volP28],[volX29,volY29,volP29],[volX30,volY30,volP30],[volX31,volY31,volP31],[volX32,volY32,volP32],[volX36,volY36,volP36],[volX33,volY33,volP33],[volX34,volY34,volP34],[volX35,volY35,volP35]];

// ---------- layout ----------
const panels=[
 {id:'number',groups:numGroups,xTicks:numXTicks,yTicks:numYTicks,lineX:numLineX,lineY:numLineY,crossX:numCrossX,crossY:numCrossY,
  left:130,right:775,top:14,bottom:661,ox:217,oy:573.7,dec:148.7,min:0.3,max:5000,labelRight:104.5,crossHalf:9,crossWidth:1.2,legendDx:0,legendDy:0},
 {id:'surface',groups:surfGroups,xTicks:surfXTicks,yTicks:surfYTicks,lineX:surfLineX,lineY:surfLineY,crossX:surfCrossX,crossY:surfCrossY,
  left:947.5,right:1591,top:14,bottom:658,ox:1222.8,oy:383.3,dec:133,min:0.01,max:500,labelRight:921,crossHalf:9,crossWidth:2.2,legendDx:821.7,legendDy:-0.6},
 {id:'volume',groups:volGroups,xTicks:volXTicks,yTicks:volYTicks,lineX:volLineX,lineY:volLineY,crossX:volCrossX,crossY:volCrossY,
  left:1786.8,right:2431.6,top:14,bottom:660.7,ox:2269.4,oy:178,dec:118.2,min:0.0001,max:20,labelRight:1761,crossHalf:9,crossWidth:2.2,legendDx:1654,legendDy:-5}
];

const SVGNS='http://www.w3.org/2000/svg';
const layer=document.getElementById('layer');
function make(tag,parent,attrs){
  const el=document.createElementNS(SVGNS,tag);
  for(const k in attrs) el.setAttribute(k,attrs[k]);
  parent.appendChild(el);
  return el;
}
function pressureColor(p){
  const n=legendColors.length;
  const i=Math.floor((p-pressureMin)/((pressureMax-pressureMin)/n));
  return legendColors[Math.max(0,Math.min(n-1,i))];
}
function logTicks(min,max){
  const out=[];
  for(let e=Math.floor(Math.log10(min)+1e-9);e<=Math.ceil(Math.log10(max));e++){
    for(let m=1;m<=9;m++){
      const v=m*Math.pow(10,e);
      if(v>=min*0.999&&v<=max*1.001) out.push({v:v,major:m===1});
    }
  }
  return out;
}
const TICK='#333';
function drawPanel(P){
  const xScale=v=>P.ox+P.dec*Math.log10(v);
  const yScale=v=>P.oy-P.dec*Math.log10(v);
  const root=make('g',layer,{});
  
  

  const ticks=logTicks(P.min,P.max);
  const axes=make('g',root,{stroke:TICK,'stroke-width':1.5,fill:'none'});
  
  
  ticks.forEach(t=>{
    const L=t.major?15:8;
    const x=xScale(t.v), y=yScale(t.v);
    make('line',axes,{x1:x,x2:x,y1:P.bottom,y2:P.bottom+L});
    make('line',axes,{x1:x,x2:x,y1:P.top,y2:P.top-L});
    make('line',axes,{x1:P.left,x2:P.left-L,y1:y,y2:y});
    make('line',axes,{x1:P.right,x2:P.right+L,y1:y,y2:y});
  });

  P.xTicks.forEach(v=>{
    const t=make('text',root,{x:xScale(v),y:707,'font-size':22,'text-anchor':'middle'});
    
    
    t.textContent=String(v);
  });
  P.yTicks.forEach(v=>{
    const t=make('text',root,{x:P.labelRight,y:yScale(v)+8,'font-size':22,'text-anchor':'end'});
    
    
    t.textContent=String(v);
  });

  const pts=make('g',root,{stroke:'#1c1c1c','stroke-width':1});
  
  
  P.groups.forEach(g=>{
    const xs=g[0], ys=g[1], p=g[2];
    const n=Math.min(xs.length,ys.length);
    for(let i=0;i<n;i++){
      const c=make('circle',pts,{cx:xScale(xs[i]),cy:yScale(ys[i]),r:7.6,fill:pressureColor(p)});
      
      
    }
  });

  const fit=make('line',root,{x1:xScale(P.lineX[0]),y1:yScale(P.lineY[0]),x2:xScale(P.lineX[1]),y2:yScale(P.lineY[1]),stroke:'#111','stroke-width':1.4});
  
  

  const crosses=make('g',root,{stroke:'#000','stroke-width':P.crossWidth});
  
  
  P.crossX.forEach((v,i)=>{
    const x=xScale(v), y=yScale(P.crossY[i]);
    make('line',crosses,{x1:x-P.crossHalf,x2:x+P.crossHalf,y1:y,y2:y});
    make('line',crosses,{x1:x,x2:x,y1:y-P.crossHalf,y2:y+P.crossHalf});
  });

  const frame=make('rect',root,{x:P.left,y:P.top,width:P.right-P.left,height:P.bottom-P.top,fill:'none',stroke:TICK,'stroke-width':1.8});
  
  

  // colour legend (laid out for panel a, shifted for others)
  const lg=make('g',root,{transform:'translate('+P.legendDx+','+P.legendDy+')'});
  
  
  make('rect',lg,{x:629.5,y:397.5,width:137,height:257.5,fill:'#fff',stroke:'#222','stroke-width':1.5});
  const bandY=p=>597.7-(p-400)*0.256;
  const step=(pressureMax-pressureMin)/legendColors.length;
  legendColors.forEach((c,i)=>{
    const y1=bandY(pressureMin+step*(i+1)), y0=bandY(pressureMin+step*i);
    make('rect',lg,{x:636.7,y:y1,width:27.3,height:y0-y1+0.4,fill:c});
  });
  make('rect',lg,{x:636.7,y:bandY(pressureMax),width:27.3,height:bandY(pressureMin)-bandY(pressureMax),fill:'none',stroke:'#111','stroke-width':1.5});
  legendTicks.forEach(v=>{
    make('line',lg,{x1:664,x2:679,y1:bandY(v),y2:bandY(v),stroke:'#333','stroke-width':1.5});
    const t=make('text',lg,{x:687,y:bandY(v)+7,'font-size':20});
    
    
    t.textContent=String(v);
  });
  const title=make('text',lg,{transform:'translate(741,423) rotate(90)','font-size':20});
  
  
  title.textContent='UHSAS-2 Psamp [hPa]';
}
panels.forEach(drawPanel);
</script>
</body>
</html>
